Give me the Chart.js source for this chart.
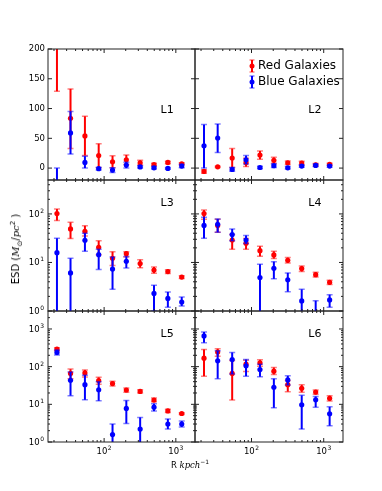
<!DOCTYPE html>
<html>
<head>
<meta charset="utf-8">
<script src="https://cdn.jsdelivr.net/npm/chart.js@4.4.1/dist/chart.umd.min.js"></script>
<style>
html, body { margin: 0; padding: 0; background: #fff; }
#fig { position: relative; width: 382px; height: 491px; overflow: hidden; }
#fig canvas { position: absolute; left: 0; top: 0; }
.lbl { position: absolute; font-family: "DejaVu Sans"; color: #000; white-space: nowrap; line-height: 1; }
.lbl i { font-family: "DejaVu Serif"; }
.lbl sub, .lbl sup { font-size: 70%; line-height: 0; }
#ylab { left: 16px; top: 249px; font-size: 10px; transform: translate(-50%, -50%) rotate(-90deg); }
#xlab { left: 190px; top: 465px; font-size: 8.5px; transform: translate(-50%, -50%); }
</style>
</head>
<body>
<div id="fig">
  <div class="lbl" id="ylab">ESD (<i>M</i><sub>⊙</sub>/<i>pc</i><sup>2</sup> )</div>
  <div class="lbl" id="xlab">R <i>kpch</i><sup>−1</sup></div>
</div>
<script>
// bin centres, kpc/h
const radius = [22, 34, 54, 84, 131, 204, 318, 496, 774, 1208];

// each bin: [ESD, lower end of error bar, upper end of error bar]
const redL1 = [[250,129,370],[83.5,33,133],[54,21,87],[21,1,41],[10.6,0.6,20.6],[14,6,22],[9,5,13],[6,4,8],[9.5,7.5,11.5],[7,5,9]];
const blueL1 = [[-40,-80,0],[59,23.5,95],[9.5,0,20],[-1,-3,1],[-3.4,-7.4,0.6],[5,0,10],[2,0,4],[0.5,-1.5,2.5],[-0.5,-2,1],[3.4,0.4,6.4]];
const redL2 = [[-5.6,-8.6,-2.6],[2.2,1.2,3.2],[16.8,0.8,32.8],[9.5,2.5,16.5],[21.8,14.8,28.8],[13,8,18],[9,6,12],[8.4,5.4,11.4],[5.6,3.6,7.6],[6.2,4.2,8.2]];
const blueL2 = [[37.5,0,73],[50.4,26,74],[-2.2,-5.2,0.8],[14,7,21],[1,-1,3],[4,1,7],[0.5,-1.5,2.5],[3.4,1.4,5.4],[4.5,2.5,6.5],[3.4,1.4,5.4]];
const redL3 = [[102,73,126],[49,31,67],[44,35,57],[20.6,14.5,28],[12.2,8.7,16.7],[15.2,13,16.7],[9.5,7.8,11.4],[7.0,6.0,8.1],[6.5,5.9,7.1],[5.0,4.7,5.3]];
const blueL3 = [[15.9,0.3,31.5],[6.1,0.2,12.2],[28.6,17,40],[14.5,7.2,18.7],[7.3,2.8,13],[10.6,7.7,13.2],null,[2.3,1.0,3.4],[1.82,1.2,2.46],[1.53,1.27,1.94]];
const redL4 = [[102,78,120],[58,42,78],[29,18.7,37.5],[24.8,18.7,31],[17.5,13.4,21.5],[14.3,12,17],[11.1,9.8,12.6],[7.5,6.5,8.5],[5.6,5.0,6.3],[3.9,3.5,4.3]];
const blueL4 = [[58,31.5,85],[61,42,79],[37.5,28,49],[29,24.5,36],[4.9,0.6,9.2],[7.6,4.6,10.4],[4.4,2.5,6.1],[1.61,0.4,2.8],[0.8,0.2,1.63],[1.69,1.2,2.17]];
const redL5 = [[293,265,318],[66,48,86],[68,53,82],[42.6,34,52],[35.5,30.6,41],[24,21,27],[22,20,24.5],[13,11.7,14.7],[6.7,6.1,7.4],[5.7,5.4,6.0]];
const blueL5 = [[239,203,275],[43.6,17,72],[33.3,13.2,59],[24.4,12.4,40],[1.57,0.1,3.0],[7.8,3.1,12.7],[2.2,0.1,4.5],[8.4,6.6,10.4],[3.0,2.2,4.1],[3.0,2.5,3.6]];
const redL6 = [[168,56,287],[243,190,299],[66,13,145],[116,74,148],[126,103,152],[76,62,95],[33.3,21.7,43],[26.6,21,33],[21.2,18.4,24],[14.4,12.2,17]];
const blueL6 = [[652,432,830],[143,48,263],[155,64,238],[105,56,155],[84,54,116],[28.4,8.1,48],[44.4,32.7,57],[9.7,2.2,17.3],[13.2,8.4,16.2],[5.6,2.7,8.6]];

const panelNames = ['L1', 'L2', 'L3', 'L4', 'L5', 'L6'];
const linTicks = [0, 50, 100, 150, 200];
const RED = '#ff0000', BLUE = '#0000ff';

// panel boxes in page pixels
const cols = [[48, 195], [195, 343]];
const rows = [[49, 180], [180, 311], [311, 442]];
const yRanges = [
    { type: 'linear', min: -20, max: 200 },
    { type: 'logarithmic', min: 1, max: 500 },
    { type: 'logarithmic', min: 1, max: 3000 }
];
const panels = [
    { red: redL1, blue: blueL1 }, { red: redL2, blue: blueL2 },
    { red: redL3, blue: blueL3 }, { red: redL4, blue: blueL4 },
    { red: redL5, blue: blueL5 }, { red: redL6, blue: blueL6 }
];

function toPoints(arr) {
    return arr.map((d, i) => d ? { x: radius[i], y: d[0], lo: d[1], hi: d[2] } : { x: radius[i], y: null });
}

function logTicks(min, max) {
    const major = [], minor = [];
    for (let e = -1; e <= 4; e++) {
        const b = Math.pow(10, e);
        if (b >= min && b <= max) major.push(b);
        for (let k = 2; k <= 9; k++) {
            const v = k * b;
            if (v > min && v < max) minor.push(v);
        }
    }
    return { major, minor };
}

function drawPow(ctx, exp, x, y, align) {
    ctx.font = '8.5px "DejaVu Sans"';
    const w1 = ctx.measureText('10').width;
    ctx.font = '6px "DejaVu Sans"';
    const w2 = ctx.measureText(String(exp)).width;
    const total = w1 + w2 + 0.5;
    const start = align === 'right' ? x - total : x - total / 2;
    ctx.textAlign = 'left';
    ctx.textBaseline = 'alphabetic';
    ctx.font = '8.5px "DejaVu Sans"';
    ctx.fillText('10', start, y + 3);
    ctx.font = '6px "DejaVu Sans"';
    ctx.fillText(String(exp), start + w1 + 0.5, y - 1);
}

// vertical error bars, drawn just under each dataset's markers
const errorBars = {
    id: 'errorBars',
    beforeDatasetDraw(chart, args) {
        const { ctx, chartArea: a, scales: { y } } = chart;
        const ds = chart.data.datasets[args.index];
        const meta = args.meta;
        const isLog = y.type === 'logarithmic';
        const v = val => isLog ? Math.max(val, 1e-3) : val;
        ctx.save();
        ctx.beginPath();
        ctx.rect(a.left, a.top, a.right - a.left, a.bottom - a.top);
        ctx.clip();
        ds.data.forEach((p, i) => {
            if (p.y === null) return;
            const px = meta.data[i].x;
            const top = y.getPixelForValue(v(p.hi));
            const bot = y.getPixelForValue(v(p.lo));
            ctx.strokeStyle = ds.borderColor;
            ctx.globalAlpha = 1;
            ctx.lineWidth = 2;
            ctx.beginPath();
            ctx.moveTo(px, top); ctx.lineTo(px, bot);
            ctx.stroke();
            ctx.globalAlpha = 0.5;
            ctx.lineWidth = 1.5;
            ctx.beginPath();
            ctx.moveTo(px - 3, top); ctx.lineTo(px + 3, top);
            ctx.moveTo(px - 3, bot); ctx.lineTo(px + 3, bot);
            ctx.stroke();
        });
        ctx.restore();
    }
};

// matplotlib-style frame, inward ticks, tick labels, panel name, legend
const frame = {
    id: 'frame',
    afterDraw(chart, args, opts) {
        const { ctx, chartArea: a, scales: { x, y } } = chart;
        ctx.save();
        ctx.strokeStyle = '#222';
        ctx.lineWidth = 1;
        ctx.strokeRect(a.left, a.top, a.right - a.left, a.bottom - a.top);

        const xt = logTicks(x.min, x.max);
        const tick = (px, len, vertical) => {
            ctx.beginPath();
            if (vertical) {
                ctx.moveTo(px, a.bottom); ctx.lineTo(px, a.bottom - len);
                ctx.moveTo(px, a.top); ctx.lineTo(px, a.top + len);
            } else {
                ctx.moveTo(a.left, px); ctx.lineTo(a.left + len, px);
                ctx.moveTo(a.right, px); ctx.lineTo(a.right - len, px);
            }
            ctx.stroke();
        };
        xt.major.forEach(v => tick(x.getPixelForValue(v), 4, true));
        xt.minor.forEach(v => tick(x.getPixelForValue(v), 2, true));

        let yMajor, yMinor = [];
        if (y.type === 'logarithmic') {
            const yt = logTicks(y.min, y.max);
            yMajor = yt.major; yMinor = yt.minor;
        } else {
            yMajor = linTicks;
        }
        yMajor.forEach(v => tick(y.getPixelForValue(v), 4, false));
        yMinor.forEach(v => tick(y.getPixelForValue(v), 2, false));

        ctx.fillStyle = '#000';
        if (opts.yLabels) {
            yMajor.forEach(v => {
                const py = y.getPixelForValue(v);
                if (y.type === 'logarithmic') {
                    drawPow(ctx, Math.round(Math.log10(v)), a.left - 4, py, 'right');
                } else {
                    ctx.font = '8.5px "DejaVu Sans"';
                    ctx.textAlign = 'right';
                    ctx.textBaseline = 'middle';
                    ctx.fillText(String(v), a.left - 3, py);
                }
            });
        }
        if (opts.xLabels) {
            xt.major.forEach(v => drawPow(ctx, Math.round(Math.log10(v)), x.getPixelForValue(v), a.bottom + 9, 'center'));
        }

        ctx.font = '11px "DejaVu Sans"';
        ctx.textAlign = 'center';
        ctx.textBaseline = 'middle';
        ctx.fillText(opts.name, a.left + 0.81 * (a.right - a.left), a.top + opts.nameY * (a.bottom - a.top));

        if (opts.legend) {
            const items = [['Red Galaxies', RED, 252, 66], ['Blue Galaxies', BLUE, 252, 82]];
            items.forEach(([text, color, lx, ly]) => {
                ctx.strokeStyle = color;
                ctx.fillStyle = color;
                ctx.lineWidth = 2;
                ctx.beginPath(); ctx.moveTo(lx, ly - 6); ctx.lineTo(lx, ly + 6); ctx.stroke();
                ctx.globalAlpha = 0.5;
                ctx.lineWidth = 1.5;
                ctx.beginPath();
                ctx.moveTo(lx - 2.5, ly - 6); ctx.lineTo(lx + 2.5, ly - 6);
                ctx.moveTo(lx - 2.5, ly + 6); ctx.lineTo(lx + 2.5, ly + 6);
                ctx.stroke();
                ctx.globalAlpha = 1;
                ctx.beginPath(); ctx.arc(lx, ly, 2.5, 0, Math.PI * 2); ctx.fill();
                ctx.fillStyle = '#000';
                ctx.font = '12px "DejaVu Sans"';
                ctx.textAlign = 'left';
                ctx.textBaseline = 'middle';
                ctx.fillText(text, lx + 6, ly);
            });
        }
        ctx.restore();
    }
};

const fig = document.getElementById('fig');
panels.forEach((p, idx) => {
    const row = Math.floor(idx / 2), col = idx % 2;
    const cv = document.createElement('canvas');
    cv.width = 382; cv.height = 491;
    cv.style.width = '382px'; cv.style.height = '491px';
    fig.insertBefore(cv, fig.firstChild);
    const yr = yRanges[row];
    new Chart(cv, {
        type: 'scatter',
        data: {
            datasets: [
                { label: 'Blue Galaxies', data: toPoints(p.blue), backgroundColor: BLUE, borderColor: BLUE,
                  pointRadius: 2.6, pointHoverRadius: 2.6, borderWidth: 0, clip: 0 },
                { label: 'Red Galaxies', data: toPoints(p.red), backgroundColor: RED, borderColor: RED,
                  pointRadius: 2.6, pointHoverRadius: 2.6, borderWidth: 0, clip: 0 }
            ]
        },
        options: {
            responsive: false,
            animation: false,
            devicePixelRatio: 1,
            events: [],
            layout: { padding: { left: cols[col][0], right: 382 - cols[col][1], top: rows[row][0], bottom: 491 - rows[row][1] } },
            scales: {
                x: { type: 'logarithmic', min: 16.5, max: 1850, display: false },
                y: { type: yr.type, min: yr.min, max: yr.max, display: false }
            },
            plugins: {
                legend: { display: false },
                tooltip: { enabled: false },
                frame: {
                    name: panelNames[idx],
                    nameY: row === 0 ? 0.47 : 0.18,
                    yLabels: col === 0,
                    xLabels: row === 2,
                    legend: idx === 1
                }
            }
        },
        plugins: [errorBars, frame]
    });
});
</script>
</body>
</html>
